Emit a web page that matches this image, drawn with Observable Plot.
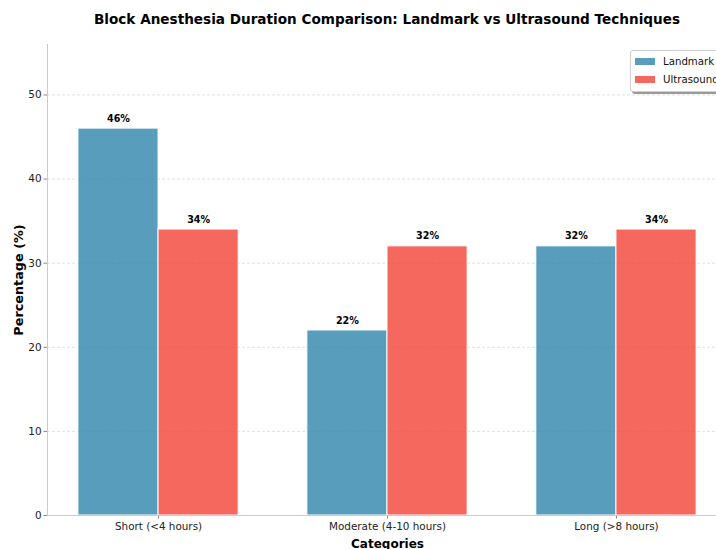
<!DOCTYPE html>
<html>
<head>
<meta charset="utf-8">
<script src="https://cdn.jsdelivr.net/npm/d3@7"></script>
<script src="https://cdn.jsdelivr.net/npm/@observablehq/plot@0.6"></script>
<style>
  html, body { margin: 0; padding: 0; background: #fff; overflow: hidden; }
  #wrap { position: relative; width: 716px; height: 549px; overflow: hidden; font-family: "DejaVu Sans", sans-serif; }
  #title { position: absolute; left: 58px; top: 11px; width: 658px; text-align: center; font-weight: bold; font-size: 13.6px; color: #000; white-space: nowrap; }
  #chart { position: absolute; left: 0; top: 36px; width: 740px; }
  #chart svg { max-width: none !important; }
  #legend { position: absolute; left: 630px; top: 50px; width: 110px; height: 40px; background: #fff; border: 1px solid #d0d0d0; border-radius: 3px; box-shadow: 2px 2px 0 #9a9a9a; font-size: 10.2px; color: #111; }
  .row { position: absolute; left: 4px; height: 14px; display: flex; align-items: center; }
  .sw { width: 20px; height: 7px; margin-right: 8px; }
</style>
</head>
<body>
<div id="wrap">
  <div id="title">Block Anesthesia Duration Comparison: Landmark vs Ultrasound Techniques</div>
  <div id="chart"></div>
  <div id="legend"></div>
</div>
<script>
const categories = ["Short (<4 hours)", "Moderate (4-10 hours)", "Long (>8 hours)"];
const seriesNames = ["Landmark", "Ultrasound"];
const landmark = [46, 22, 32];
const ultrasound = [34, 32, 34];
const seriesColors = ["#2E86AB", "#F24236"];
const yTicks = [0, 10, 20, 30, 40, 50];

const barWidth = 0.35;
const xDomain = [-0.485, 2.485];
const yDomain = [0, 56];

const rows = [];
[landmark, ultrasound].forEach((vals, s) => {
  vals.forEach((v, i) => rows.push({cat: categories[i], i, s, series: seriesNames[s], value: v}));
});

const fontFam = "DejaVu Sans, sans-serif";

const plot = Plot.plot({
  width: 740,
  height: 513,
  marginLeft: 47,
  marginRight: 13,
  marginTop: 8,
  marginBottom: 34,
  style: {fontFamily: fontFam, fontSize: "10.4px", color: "#222", background: "transparent", maxWidth: "none"},
  x: {
    type: "linear",
    domain: xDomain,
    ticks: [0, 1, 2],
    tickFormat: i => categories[i],
    tickSize: 3.5,
    tickPadding: 3.5,
    label: null
  },
  y: {
    domain: yDomain,
    ticks: yTicks,
    tickSize: 3.5,
    tickPadding: 2.5,
    label: null
  },
  color: {domain: seriesNames, range: seriesColors},
  marks: [
    Plot.ruleY(yTicks, {stroke: "#d9d9d9", strokeDasharray: "3,2", strokeWidth: 0.8}),
    Plot.rect(rows, {
      x1: d => d.i + (d.s - 1) * barWidth,
      x2: d => d.i + d.s * barWidth,
      y1: 0,
      y2: "value",
      fill: "series",
      fillOpacity: 0.8,
      stroke: "white",
      strokeWidth: 1
    }),
    Plot.text(rows, {
      x: d => d.i + (d.s - 0.5) * barWidth,
      y: "value",
      text: d => d.value + "%",
      dy: -10,
      fontWeight: "bold",
      fontSize: 9.6,
      fill: "#000"
    }),
    Plot.ruleX([xDomain[0]], {y1: yDomain[0], y2: yDomain[1], stroke: "#cccccc", strokeWidth: 1}),
    Plot.ruleY([0], {stroke: "#cccccc", strokeWidth: 1}),
    Plot.text(["Percentage (%)"], {frameAnchor: "left", textAnchor: "middle", dx: -29, rotate: -90, fontWeight: "bold", fontSize: 12.8, fill: "#000"}),
    Plot.text(["Categories"], {frameAnchor: "bottom", dy: 32, fontWeight: "bold", fontSize: 12, fill: "#000"})
  ]
});

plot.style.maxWidth = "none";
d3.select(plot).selectAll("[aria-label='x-axis tick'] path, [aria-label='y-axis tick'] path, g[aria-label='x-axis'] path, g[aria-label='y-axis'] path").attr("stroke", "#888");
document.getElementById("chart").appendChild(plot);

const legend = document.getElementById("legend");
seriesNames.forEach((name, k) => {
  const row = document.createElement("div");
  row.className = "row";
  row.style.top = (3 + k * 18) + "px";
  const sw = document.createElement("div");
  sw.className = "sw";
  sw.style.background = seriesColors[k];
  sw.style.opacity = 0.8;
  const lab = document.createElement("span");
  lab.textContent = name;
  row.appendChild(sw);
  row.appendChild(lab);
  legend.appendChild(row);
});
</script>
</body>
</html>
